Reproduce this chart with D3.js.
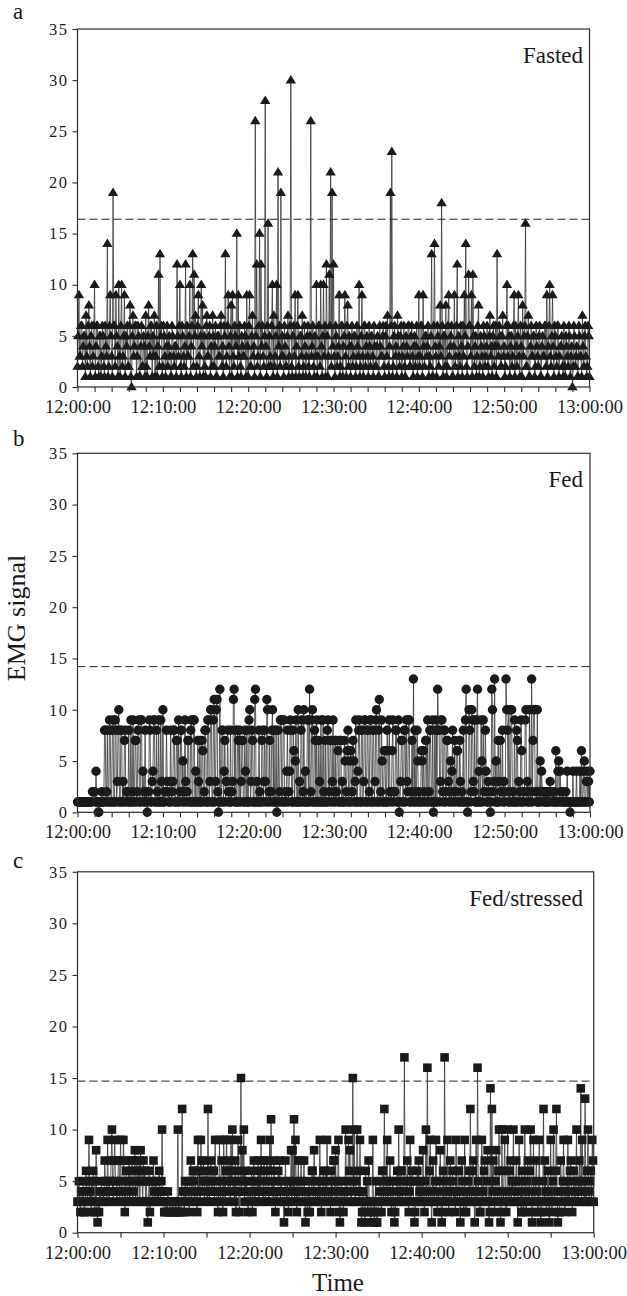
<!DOCTYPE html>
<html>
<head>
<meta charset="utf-8">
<script src="https://cdn.jsdelivr.net/npm/d3@7"></script>
<style>
  body { margin: 0; background: #fff; }
  svg { display: block; }
  text { font-family: "Liberation Serif", "Times New Roman", serif; fill: #1a1a1a; }
</style>
</head>
<body>
<svg id="chart" width="627" height="1296"></svg>
<script>
// EMG recordings, one reading every 5 s from 12:00:00 to 13:00:00
const sampleSeconds = 5;
const startTime = new Date(2000, 0, 1, 12, 0, 0);
const endTime = new Date(2000, 0, 1, 13, 0, 0);
const yTicks = [0, 5, 10, 15, 20, 25, 30, 35];
const panelLetters = ["a", "b", "c"];
const panelNames = ["Fasted", "Fed", "Fed/stressed"];
const thresholds = [16.4, 14.2, 14.7];

// one row per minute (12 readings)
const fasted = [
  2,5,9,3,3,6,6,2,4,5,5,1,
  7,3,2,6,8,4,1,5,6,2,3,6,
  10,1,4,6,6,2,1,5,5,1,3,6,
  5,2,1,6,4,3,14,1,2,6,9,5,
  3,1,19,6,6,2,9,5,4,1,10,3,
  1,6,10,2,3,5,9,1,5,4,6,2,
  2,6,8,1,0,5,7,3,4,6,6,1,
  3,6,5,1,1,4,6,2,2,5,4,1,
  7,2,1,5,8,4,3,6,6,1,5,3,
  7,1,3,6,1,4,11,2,13,5,6,1,
  2,6,5,3,1,4,6,2,4,5,3,1,
  1,6,5,3,2,4,4,1,12,5,3,6,
  10,2,1,6,5,3,2,4,12,1,6,3,
  3,5,10,1,4,6,13,2,11,5,7,1,
  2,6,9,3,1,5,10,4,8,1,5,2,
  1,6,7,3,3,5,6,1,4,2,7,5,
  2,4,6,1,1,5,5,3,3,6,7,2,
  4,1,6,5,13,2,3,6,9,4,1,5,
  8,1,9,3,2,6,5,4,15,1,9,3,
  6,2,1,5,4,3,3,6,5,1,9,4,
  1,6,9,2,2,5,7,3,4,1,26,5,
  12,2,3,6,15,1,12,4,6,3,2,5,
  28,4,1,6,16,2,5,3,2,6,10,1,
  7,2,3,5,10,1,21,4,6,2,19,3,
  5,3,1,6,4,2,2,5,7,1,3,6,
  30,2,1,5,6,3,9,1,4,6,9,2,
  1,5,5,3,7,1,2,6,4,1,3,5,
  6,2,1,5,26,3,4,6,2,1,5,3,
  10,1,3,6,6,2,10,4,1,5,10,3,
  6,1,12,5,1,3,11,6,21,2,19,4,
  12,3,1,6,5,2,3,4,9,1,2,6,
  6,1,4,5,9,3,1,6,8,2,5,4,
  1,4,6,2,3,5,5,1,2,6,4,3,
  10,1,2,5,9,3,1,6,6,2,4,5,
  3,1,6,4,2,5,5,3,1,6,4,2,
  2,4,5,1,1,6,4,3,3,5,6,2,
  1,5,6,3,7,2,1,4,19,6,23,1,
  2,5,6,3,4,1,7,5,3,2,5,6,
  1,3,4,6,2,1,5,4,3,6,6,2,
  2,5,6,3,1,4,5,2,4,6,1,3,
  9,2,3,6,6,1,9,4,2,5,5,3,
  4,6,1,3,2,5,13,1,1,6,14,4,
  3,1,6,5,2,4,8,3,18,6,1,5,
  5,2,8,1,2,6,9,3,4,5,6,1,
  1,4,9,2,3,6,12,1,5,3,2,6,
  4,1,6,3,9,5,14,2,1,4,11,6,
  6,3,9,1,11,5,2,4,5,1,3,6,
  8,1,2,5,4,3,1,6,5,2,3,4,
  6,2,1,5,7,3,4,1,5,6,2,4,
  6,1,13,4,3,6,5,2,2,5,7,3,
  4,1,2,6,10,3,6,5,1,4,5,2,
  3,6,9,1,6,4,2,5,9,3,1,6,
  4,1,8,3,5,6,16,2,2,5,7,1,
  1,4,6,3,3,5,5,1,2,6,4,3,
  2,5,6,1,1,4,5,3,3,6,6,2,
  9,1,4,6,10,3,2,5,9,4,1,6,
  5,3,2,6,6,1,3,4,4,5,2,1,
  6,2,1,5,4,3,2,6,5,1,3,4,
  0,2,6,5,2,3,4,1,1,6,5,3,
  3,1,7,4,2,5,6,3,1,2,6,5,
  1
];

const fed = [
  1,1,1,1,1,1,1,1,1,1,1,1,
  1,1,1,1,1,1,1,1,1,2,2,2,
  2,1,4,1,1,0,0,1,1,1,2,1,
  1,1,8,8,1,2,8,1,1,9,8,1,
  1,8,9,1,1,9,8,1,3,8,10,1,
  1,8,8,1,3,1,7,8,1,2,2,1,
  8,1,1,9,1,2,9,1,1,7,7,1,
  2,8,9,1,1,9,9,1,4,2,1,8,
  1,2,0,1,2,9,8,1,1,3,4,9,
  9,1,1,8,2,1,9,1,1,9,3,1,
  10,1,1,2,2,8,3,2,1,1,3,8,
  1,2,3,8,8,1,1,7,7,1,9,1,
  2,8,8,1,5,2,1,9,3,1,2,7,
  7,1,1,8,9,1,1,9,9,1,4,1,
  1,7,3,1,7,1,1,7,6,1,2,8,
  8,1,1,9,9,1,3,10,10,1,1,9,
  11,1,3,10,11,2,0,1,12,1,1,8,
  8,1,4,7,1,3,3,8,2,1,1,8,
  1,2,3,11,12,1,8,1,1,8,7,1,
  8,1,3,7,7,1,1,8,4,1,8,1,
  1,9,10,1,3,8,7,1,1,11,12,1,
  3,1,1,8,2,1,1,7,8,1,3,8,
  3,1,11,10,1,2,7,1,2,8,10,1,
  8,1,1,8,0,1,8,1,2,9,9,1,
  1,9,9,1,2,1,4,8,1,2,4,9,
  8,1,1,8,6,1,5,9,1,1,10,1,
  3,1,8,9,1,2,10,1,4,1,1,9,
  9,1,12,1,2,9,10,1,1,8,7,1,
  9,1,1,7,3,1,9,1,1,9,2,1,
  7,1,1,8,9,1,2,7,7,1,3,9,
  1,2,7,1,2,7,6,1,1,7,7,1,
  3,1,1,7,5,1,2,6,8,1,1,5,
  6,1,2,7,5,1,3,9,1,1,4,8,
  9,1,1,8,8,1,3,9,9,1,1,8,
  8,1,2,9,9,1,1,8,8,1,3,9,
  10,1,1,8,11,1,2,9,5,1,1,6,
  6,1,1,8,6,1,9,2,2,1,6,9,
  1,2,2,8,8,1,1,9,0,1,3,7,
  7,1,1,8,8,1,9,3,2,9,9,1,
  1,2,7,1,13,1,8,2,1,8,5,1,
  2,1,1,6,5,1,6,2,1,7,7,1,
  9,1,2,8,8,1,1,9,0,1,8,1,
  9,1,12,8,8,1,3,9,9,2,1,8,
  8,1,2,7,7,3,1,2,5,1,4,8,
  1,2,7,1,2,6,6,1,1,7,3,1,
  2,1,8,1,1,9,12,1,0,1,10,8,
  1,2,10,9,3,2,9,1,1,9,12,1,
  4,1,1,9,5,1,9,2,2,8,4,1,
  1,3,2,1,0,1,12,10,2,3,13,1,
  5,1,1,7,3,1,7,2,2,8,1,3,
  1,2,13,10,8,1,10,2,1,10,10,1,
  2,1,9,1,1,8,7,1,3,2,1,9,
  6,1,1,2,2,9,10,1,3,2,1,10,
  1,2,13,1,7,10,10,2,2,1,10,1,
  1,2,5,1,4,2,2,1,2,1,2,1,
  2,1,2,1,3,2,2,1,2,1,2,1,
  6,1,1,4,5,1,4,2,1,1,2,1,
  1,1,2,1,4,1,1,1,0,1,1,1,
  4,1,1,1,1,4,1,1,1,1,4,1,
  6,1,1,4,5,1,1,3,4,1,3,1,
  4
];

const fedStressed = [
  3,3,5,3,2,4,4,3,5,2,2,3,
  6,4,3,5,9,3,4,2,5,3,6,5,
  2,3,8,2,1,3,2,4,3,5,4,3,
  4,3,7,5,5,3,9,4,3,5,5,7,
  10,4,3,7,9,5,5,3,4,7,7,3,
  9,5,4,3,9,7,2,3,6,4,3,5,
  7,3,5,6,7,3,4,5,8,3,6,7,
  3,5,7,3,8,6,5,3,7,5,6,3,
  5,3,1,3,6,2,3,5,5,3,7,4,
  3,5,5,3,4,3,6,4,3,5,10,4,
  3,2,2,3,3,2,4,3,3,2,2,3,
  3,2,2,3,3,2,2,3,10,2,3,2,
  2,3,12,4,4,2,5,3,3,5,4,3,
  2,5,7,3,4,6,5,3,6,4,3,2,
  9,4,6,3,9,7,4,5,7,3,5,6,
  5,3,12,4,3,5,7,4,4,6,6,3,
  9,5,4,3,2,4,9,3,5,7,4,2,
  9,4,3,6,9,5,4,7,6,3,9,5,
  10,4,5,3,7,2,4,6,9,4,2,5,
  15,4,8,5,10,3,6,4,5,3,2,4,
  4,3,5,6,2,4,7,3,3,5,5,4,
  7,3,6,4,9,5,4,3,7,6,3,4,
  7,5,4,3,9,6,11,4,5,3,7,4,
  2,4,4,3,6,5,7,3,5,4,4,3,
  1,3,7,4,3,5,2,3,5,4,8,3,
  8,4,11,3,9,5,2,4,7,3,4,5,
  7,4,3,5,7,3,1,4,4,2,3,5,
  2,3,4,6,6,3,8,5,3,4,4,3,
  5,3,9,4,2,3,5,6,3,4,6,3,
  9,5,3,4,4,2,6,3,5,7,7,3,
  8,4,3,5,9,2,1,3,5,4,3,2,
  4,3,10,5,3,4,9,6,8,3,3,5,
  15,4,10,3,3,5,10,6,4,3,9,4,
  1,2,4,3,2,1,6,3,5,2,7,3,
  3,1,2,3,9,2,1,3,5,1,1,2,
  3,4,5,3,2,6,6,3,12,4,3,5,
  9,3,4,5,7,3,2,4,5,3,1,2,
  3,5,6,3,10,4,3,6,6,3,4,5,
  17,3,3,5,7,3,2,4,9,3,5,6,
  5,3,1,2,3,5,6,3,7,4,3,5,
  3,4,8,3,2,5,10,3,16,4,3,6,
  9,3,1,4,7,3,3,5,9,3,2,4,
  3,5,8,3,1,2,6,3,17,4,3,5,
  9,3,2,4,7,3,4,6,5,3,4,2,
  9,4,3,6,6,3,1,4,7,5,3,2,
  9,3,2,4,3,5,6,3,12,4,3,6,
  7,3,1,4,9,3,16,5,3,2,2,4,
  9,3,4,6,7,3,3,5,8,3,1,2,
  14,3,12,4,7,3,2,5,8,4,3,6,
  10,3,1,2,10,4,3,6,9,3,2,4,
  10,3,3,6,7,3,5,4,10,3,3,5,
  7,4,1,3,9,5,3,2,6,3,2,4,
  10,3,2,5,7,3,3,6,10,4,1,2,
  9,3,3,5,7,4,2,3,9,3,1,2,
  3,5,12,3,7,4,2,3,6,4,1,3,
  9,3,2,5,10,3,3,6,12,4,1,2,
  2,3,7,4,3,5,9,3,2,4,5,3,
  9,3,3,6,7,4,2,3,6,5,3,4,
  10,3,3,5,7,4,14,3,9,5,4,3,
  13,3,3,6,10,4,3,5,6,3,9,7,
  3
];

const seriesList = [fasted, fed, fedStressed];

// panel frames in page pixels
const frames = [
  { left: 77.5, right: 589.5, top: 29,    bottom: 387,    tickMinutes: 2, marker: "triangle", letterY: 19 },
  { left: 77.5, right: 590,   top: 453.3, bottom: 812.3,  tickMinutes: 2, marker: "circle",   letterY: 446 },
  { left: 77.5, right: 593.7, top: 871.8, bottom: 1232.7, tickMinutes: 5, marker: "square",   letterY: 868 }
];

const svg = d3.select("#chart");
const fmt = d3.timeFormat("%H:%M:%S");
const ink = "#1a1a1a";
const axisInk = "#2b2b2b";

frames.forEach((f, i) => {
  const values = seriesList[i];
  const data = values.map((v, k) => ({ t: new Date(startTime.getTime() + k * sampleSeconds * 1000), v }));

  const x = d3.scaleTime().domain([startTime, endTime]).range([f.left, f.right]);
  const y = d3.scaleLinear().domain([0, 35]).range([f.bottom, f.top]);

  const g = svg.append("g");

  // dashed threshold
  g.append("line")
    .attr("x1", f.left).attr("x2", f.right)
    .attr("y1", y(thresholds[i])).attr("y2", y(thresholds[i]))
    .attr("stroke", "#222").attr("stroke-width", 1)
    .attr("stroke-dasharray", "8,4");

  // trace
  const line = d3.line().x(d => x(d.t)).y(d => y(d.v));
  g.append("path").datum(data)
    .attr("d", line)
    .attr("fill", "none")
    .attr("stroke", "#333")
    .attr("stroke-width", 0.8);

  // markers
  let shape;
  if (f.marker === "triangle") shape = "M0,-5.2L5.2,3.3L-5.2,3.3Z";
  else if (f.marker === "square") shape = "M-4.3,-4.3H4.3V4.3H-4.3Z";
  else shape = d3.symbol(d3.symbolCircle, Math.PI * 4.7 * 4.7)();

  g.append("g").selectAll("path").data(data).join("path")
    .attr("d", shape)
    .attr("transform", d => `translate(${x(d.t)},${y(d.v)})`)
    .attr("fill", ink);

  // frame
  g.append("rect")
    .attr("x", f.left).attr("y", f.top)
    .attr("width", f.right - f.left).attr("height", f.bottom - f.top)
    .attr("fill", "none").attr("stroke", axisInk).attr("stroke-width", 1.2);

  // x axis
  const xTicks = d3.timeMinute.every(f.tickMinutes).range(startTime, new Date(endTime.getTime() + 1000));
  const xAxis = d3.axisBottom(x)
    .tickValues(xTicks)
    .tickSize(5)
    .tickSizeOuter(0)
    .tickPadding(8)
    .tickFormat(d => d.getMinutes() % 10 === 0 ? fmt(d) : "");
  const gx = g.append("g").attr("transform", `translate(0,${f.bottom})`).call(xAxis);
  gx.select(".domain").remove();
  gx.selectAll("line").attr("stroke", axisInk).attr("stroke-width", 1.1);
  gx.selectAll("text").attr("font-size", 18.5).attr("fill", ink)
    .attr("font-family", "Liberation Serif, Times New Roman, serif");

  // y axis
  const yAxis = d3.axisLeft(y).tickValues(yTicks).tickSize(5).tickSizeOuter(0).tickPadding(4);
  const gy = g.append("g").attr("transform", `translate(${f.left},0)`).call(yAxis);
  gy.select(".domain").remove();
  gy.selectAll("line").attr("stroke", axisInk).attr("stroke-width", 1.1);
  gy.selectAll("text").attr("font-size", 16.5).attr("fill", ink)
    .attr("letter-spacing", 1.5)
    .attr("font-family", "Liberation Serif, Times New Roman, serif");

  // panel letter and condition name
  g.append("text").attr("x", 13).attr("y", f.letterY)
    .attr("font-size", 23).text(panelLetters[i]);
  g.append("text").attr("x", 583).attr("y", f.top + 34)
    .attr("text-anchor", "end").attr("font-size", 23).text(panelNames[i]);
});

// shared axis titles
svg.append("text")
  .attr("transform", "translate(25,618) rotate(-90)")
  .attr("text-anchor", "middle").attr("font-size", 26)
  .text("EMG signal");

svg.append("text")
  .attr("x", 338).attr("y", 1291)
  .attr("text-anchor", "middle").attr("font-size", 25)
  .text("Time");
</script>
</body>
</html>
